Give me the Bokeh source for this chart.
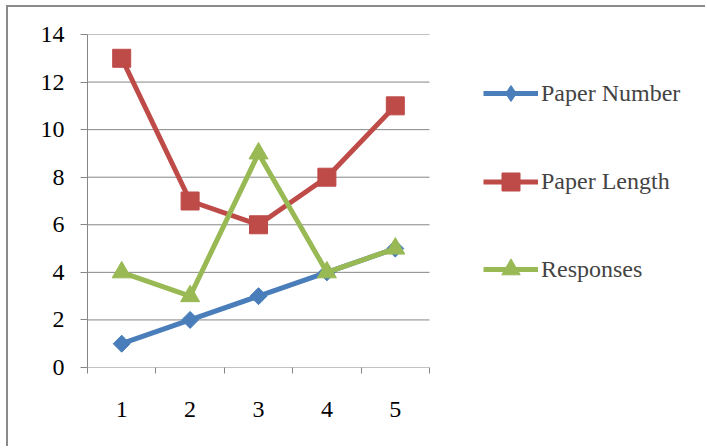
from bokeh.plotting import figure
from bokeh.models import Legend, LegendItem, FixedTicker, Range1d
from bokeh.embed import file_html
from bokeh.resources import INLINE
import math

categories = [1, 2, 3, 4, 5]
paper_number = [1, 2, 3, 4, 5]
paper_length = [13, 7, 6, 8, 11]
responses = [4, 3, 9, 4, 5]
y_ticks = [0, 2, 4, 6, 8, 10, 12, 14]

BLUE = "#4A7EBB"
RED = "#BE4B48"
GREEN = "#98B954"
GRID = "#868686"
FONT = "'Liberation Serif', 'Times New Roman', serif"

W, H = 699, 441
FRAME_LEFT = 79
CAT_PX = 68.4  # pixels per category
x_start = categories[0] - 0.5
x_end = x_start + (W - FRAME_LEFT) / CAT_PX

p = figure(width=W, height=H, output_backend="svg", toolbar_location=None,
           x_range=Range1d(x_start, x_end), y_range=Range1d(0, 14),
           min_border_left=FRAME_LEFT, min_border_right=0, min_border_top=27,
           min_border_bottom=81)
p.styles = {"margin-left": "6px", "margin-top": "5px",
            "border-left": "2px solid #8a8a8a", "border-top": "2px solid #8a8a8a"}
p.outline_line_color = None
p.background_fill_color = "white"
p.border_fill_color = "white"

bounds = [c - 0.5 for c in categories] + [categories[-1] + 0.5]

# axes
p.xaxis.ticker = FixedTicker(ticks=categories, minor_ticks=bounds)
p.xaxis.major_tick_out = 0
p.xaxis.major_tick_in = 0
p.xaxis.minor_tick_out = 6
p.xaxis.minor_tick_in = 0
p.xaxis.minor_tick_line_color = GRID
p.xaxis.axis_line_color = None
p.xaxis.major_label_standoff = 28
p.yaxis.ticker = FixedTicker(ticks=y_ticks)
p.yaxis.major_tick_out = 7
p.yaxis.major_tick_in = 0
p.yaxis.minor_tick_line_color = None
p.yaxis.major_tick_line_color = GRID
p.yaxis.axis_line_color = GRID
p.yaxis.major_label_standoff = 16
for ax in (p.xaxis, p.yaxis):
    ax.major_label_text_font = FONT
    ax.major_label_text_font_size = "24px"
    ax.major_label_text_color = "black"

p.xgrid.grid_line_color = None
p.ygrid.grid_line_color = None

# horizontal gridlines (and category axis line at 0) limited to the category span
p.segment(x0=[bounds[0]] * len(y_ticks), x1=[bounds[-1]] * len(y_ticks),
          y0=y_ticks, y1=y_ticks, line_color=GRID, line_width=1)

r1l = p.line(categories, paper_number, line_color=BLUE, line_width=5)
# diamond (used for the legend swatch), covered by the rotated square in the plot
r1d = p.scatter(categories, paper_number, marker="diamond", size=16,
                fill_color=BLUE, line_color=BLUE)
r1m = p.scatter(categories, paper_number, marker="square", angle=math.pi / 4,
                size=12, fill_color=BLUE, line_color=BLUE)
r2l = p.line(categories, paper_length, line_color=RED, line_width=5)
r2m = p.scatter(categories, paper_length, marker="square", size=18,
                fill_color=RED, line_color=RED)
r3l = p.line(categories, responses, line_color=GREEN, line_width=5)
r3m = p.scatter(categories, responses, marker="triangle", size=19,
                fill_color=GREEN, line_color=GREEN)

# one legend per series so each marker keeps its own size
legend_specs = [
    ("Paper Number", [r1l, r1d], 40, 254),
    ("Paper Length", [r2l, r2m], 45, 163),
    ("Responses", [r3l, r3m], 46, 75),
]
for label, rends, gh, yoff in legend_specs:
    lg = Legend(items=[LegendItem(label=label, renderers=rends)], location=(396, yoff))
    lg.glyph_width = 55
    lg.glyph_height = gh
    lg.label_height = 20
    lg.padding = 0
    lg.margin = 0
    lg.label_standoff = 3
    lg.label_text_font = FONT
    lg.label_text_font_size = "24px"
    lg.border_line_color = None
    lg.background_fill_alpha = 0
    p.add_layout(lg, "center")

open("out.html", "w").write(file_html(p, INLINE))
